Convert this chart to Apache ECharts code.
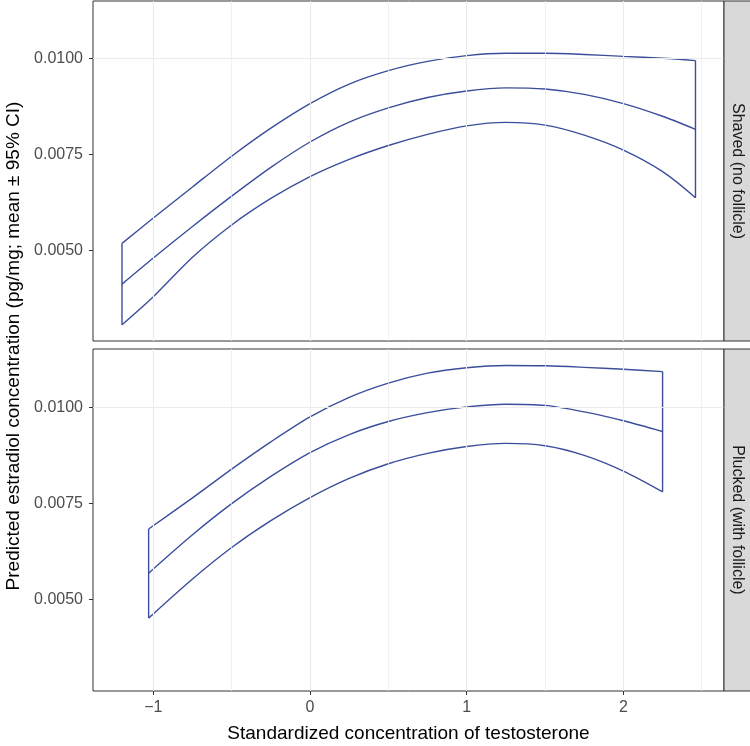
<!DOCTYPE html>
<html>
<head>
<meta charset="utf-8">
<script src="https://cdn.jsdelivr.net/npm/echarts@6/dist/echarts.min.js"></script>
<style>
html,body{margin:0;padding:0;background:#fff;}
#chart{width:750px;height:746px;}
</style>
</head>
<body>
<div id="chart"></div>
<script>
// ---- Data ----
var panelNames = ['Shaved (no follicle)', 'Plucked (with follicle)'];

var xShaved     = [-1.20, -1.0, -0.75, -0.5, -0.25, 0, 0.25, 0.5, 0.75, 1.0, 1.25, 1.5, 1.75, 2.0, 2.25, 2.46];
var upperShaved = [0.00518, 0.00584, 0.00665, 0.00745, 0.00818, 0.00882, 0.00933, 0.00968, 0.00992, 0.01007, 0.01013, 0.01013, 0.01010, 0.01005, 0.01000, 0.00994];
var meanShaved  = [0.00412, 0.00480, 0.00562, 0.00641, 0.00716, 0.00782, 0.00834, 0.00871, 0.00898, 0.00915, 0.00923, 0.00920, 0.00906, 0.00882, 0.00849, 0.00815];
var lowerShaved = [0.00306, 0.00379, 0.00482, 0.00566, 0.00635, 0.00692, 0.00737, 0.00773, 0.00802, 0.00824, 0.00833, 0.00826, 0.00800, 0.00761, 0.00705, 0.00637];

var xPlucked     = [-1.03, -0.75, -0.5, -0.25, 0, 0.25, 0.5, 0.75, 1.0, 1.25, 1.5, 1.75, 2.0, 2.25];
var upperPlucked = [0.00683, 0.00764, 0.00839, 0.00910, 0.00975, 0.01026, 0.01063, 0.01089, 0.01103, 0.01109, 0.01108, 0.01104, 0.01099, 0.01093];
var meanPlucked  = [0.00568, 0.00668, 0.00749, 0.00820, 0.00882, 0.00929, 0.00963, 0.00986, 0.01001, 0.01008, 0.01005, 0.00988, 0.00965, 0.00937];
var lowerPlucked = [0.00451, 0.00553, 0.00635, 0.00705, 0.00765, 0.00815, 0.00853, 0.00880, 0.00898, 0.00906, 0.00900, 0.00875, 0.00834, 0.00780];

var xTicks = [-1, 0, 1, 2];
var xGrid = [-1, -0.5, 0, 0.5, 1, 1.5, 2, 2.5];
var yTicks = [0.0050, 0.0075, 0.0100];
var yGrid = [0.00375, 0.0050, 0.00625, 0.0075, 0.00875, 0.0100, 0.01125];

var xRange = [-1.385, 2.642];
var yRanges = [[0.002638, 0.011492], [0.002612, 0.011518]];

var xTitle = 'Standardized concentration of testosterone';
var yTitle = 'Predicted estradiol concentration (pg/mg; mean \u00b1 95% CI)';

// ---- Styles ----
var LINE = '#3B4E9B';
var FONT = '"Liberation Sans", Arial, Helvetica, sans-serif';
var grids = [
  {left: 93, top: 1, width: 631, height: 340},
  {left: 93, top: 349, width: 631, height: 342}
];

function zip(xs, ys) { return xs.map(function (x, i) { return [x, ys[i]]; }); }

var panels = [
  {x: xShaved, up: upperShaved, mean: meanShaved, lo: lowerShaved},
  {x: xPlucked, up: upperPlucked, mean: meanPlucked, lo: lowerPlucked}
];

var option = {
  animation: false,
  backgroundColor: '#ffffff',
  grid: grids.map(function (g) {
    return Object.assign({show: true, borderColor: '#333333', borderWidth: 1, backgroundColor: '#ffffff', containLabel: false}, g);
  }),
  xAxis: grids.map(function (g, i) {
    return {
      type: 'value', gridIndex: i, min: xRange[0], max: xRange[1], position: 'bottom',
      axisLine: {show: false, onZero: false},
      splitLine: {show: false},
      axisTick: {show: i === 1, length: 4, inside: false, customValues: xTicks, lineStyle: {color: '#333333', width: 1}},
      axisLabel: {show: i === 1, customValues: xTicks, margin: 9, color: '#4d4d4d', fontSize: 16, fontFamily: FONT,
        formatter: function (v) { return String(v).replace('-', '\u2212'); }}
    };
  }),
  yAxis: grids.map(function (g, i) {
    return {
      type: 'value', gridIndex: i, min: yRanges[i][0], max: yRanges[i][1], position: 'left',
      axisLine: {show: false, onZero: false},
      splitLine: {show: false},
      axisTick: {show: true, length: 4, customValues: yTicks, lineStyle: {color: '#333333', width: 1}},
      axisLabel: {customValues: yTicks, margin: 10, color: '#4d4d4d', fontSize: 16, fontFamily: FONT,
        formatter: function (v) { return v.toFixed(4); }}
    };
  }),
  series: [],
  graphic: []
};

panels.forEach(function (p, i) {
  // grid lines (drawn under the data)
  var gl = [];
  xGrid.forEach(function (v) { gl.push({xAxis: v, lineStyle: {width: (v % 1 === 0) ? 1.1 : 0.7}}); });
  yGrid.forEach(function (v) { gl.push({yAxis: v, lineStyle: {width: (yTicks.indexOf(v) >= 0) ? 1.1 : 0.7}}); });
  option.series.push({
    type: 'line', xAxisIndex: i, yAxisIndex: i, data: [], z: 0, silent: true,
    markLine: {silent: true, symbol: ['none', 'none'], label: {show: false}, animation: false,
      lineStyle: {type: 'solid', color: '#ebebeb'}, data: gl}
  });
  var common = {type: 'line', xAxisIndex: i, yAxisIndex: i, showSymbol: false, symbol: 'none', z: 3,
    lineStyle: {color: LINE, width: 1.4}, smooth: 0.3, silent: true};
  option.series.push(Object.assign({}, common, {data: zip(p.x, p.up)}));
  option.series.push(Object.assign({}, common, {data: zip(p.x, p.mean)}));
  option.series.push(Object.assign({}, common, {data: zip(p.x, p.lo)}));
  var n = p.x.length - 1;
  option.series.push(Object.assign({}, common, {smooth: false, data: [[p.x[0], p.lo[0]], [p.x[0], p.up[0]]]}));
  option.series.push(Object.assign({}, common, {smooth: false, data: [[p.x[n], p.lo[n]], [p.x[n], p.up[n]]]}));

  // facet strip
  var g = grids[i];
  option.graphic.push({
    type: 'rect', silent: true, z: 10,
    shape: {x: 724, y: g.top, width: 40, height: g.height},
    style: {fill: '#d9d9d9', stroke: '#333333', lineWidth: 1}
  });
  option.graphic.push({
    type: 'text', silent: true, z: 11, x: 737.5, y: g.top + g.height / 2, rotation: -Math.PI / 2,
    style: {text: panelNames[i], fill: '#1a1a1a', font: '16px ' + FONT, textAlign: 'center', textVerticalAlign: 'middle'}
  });
});

option.graphic.push({
  type: 'text', silent: true, x: 408.5, y: 734,
  style: {text: xTitle, fill: '#000000', font: '19px ' + FONT, textAlign: 'center', textVerticalAlign: 'middle'}
});
option.graphic.push({
  type: 'text', silent: true, x: 14, y: 346, rotation: Math.PI / 2,
  style: {text: yTitle, fill: '#000000', font: '19px ' + FONT, textAlign: 'center', textVerticalAlign: 'middle'}
});

var chart = echarts.init(document.getElementById('chart'), null, {renderer: 'canvas'});
chart.setOption(option);
</script>
</body>
</html>
